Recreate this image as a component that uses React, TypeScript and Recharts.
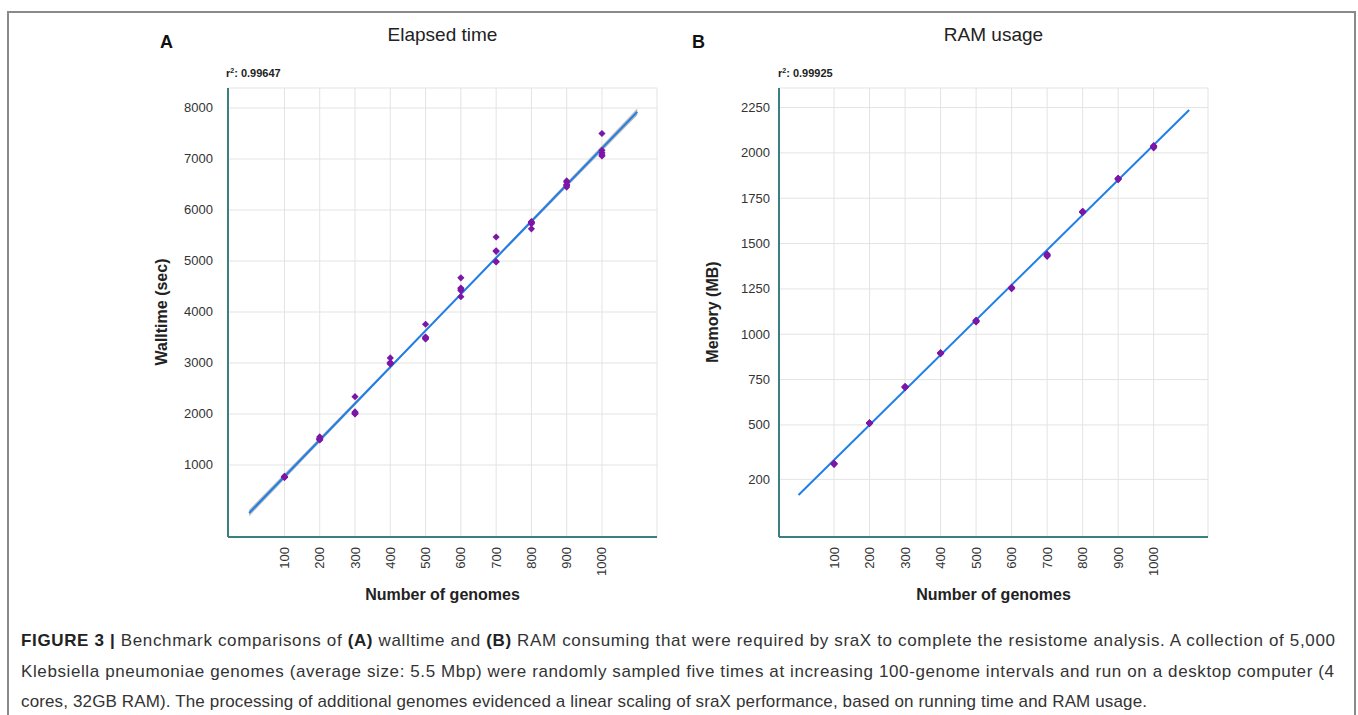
import React from "react";
import { ComposedChart, Scatter, Line, Area, XAxis, YAxis, CartesianGrid } from "recharts";

const genomes = [100, 200, 300, 400, 500, 600, 700, 800, 900, 1000];
const walltimeRuns = [
  [770, 760, 765, 755, 775],
  [1550, 1520, 1500, 1490, 1510],
  [2340, 2040, 2000, 2010, 2020],
  [3100, 3000, 2980, 2990, 3010],
  [3760, 3500, 3480, 3470, 3510],
  [4670, 4470, 4450, 4420, 4300],
  [5470, 5200, 5190, 4990, 4980],
  [5770, 5750, 5730, 5630, 5760],
  [6570, 6550, 6480, 6450, 6500],
  [7500, 7170, 7120, 7080, 7060],
];
const memoryRuns = [
  [283, 286, 288, 284, 287],
  [508, 510, 512, 509, 511],
  [706, 709, 712, 708, 710],
  [893, 896, 898, 895, 897],
  [1068, 1073, 1077, 1071, 1075],
  [1252, 1255, 1258, 1254, 1256],
  [1430, 1436, 1442, 1434, 1439],
  [1672, 1675, 1678, 1674, 1676],
  [1853, 1857, 1860, 1856, 1858],
  [2028, 2034, 2040, 2032, 2037],
];
const fitX = [0, 1100];
const fitWalltime = [59, 7924];
const fitMemory = [114, 2237];
const bandX = [0, 550, 1100];
const bandWalltimeLow = [-5, 3980, 7860];
const bandWalltimeHigh = [123, 4005, 7988];
const yTicksA = [1000, 2000, 3000, 4000, 5000, 6000, 7000, 8000];
const yTicksB = [200, 500, 750, 1000, 1250, 1500, 1750, 2000, 2250];

const FONT = "'Liberation Sans', Arial, Helvetica, sans-serif";
const TEAL = "#3b7f80";
const PURPLE = "#7b16a6";
const BLUE = "#1f7fe6";

const toPoints = (runs: number[][]) =>
  genomes.flatMap((g, i) => runs[i].map((v) => ({ x: g, y: v })));

const Diamond = (props: any) => {
  const { cx, cy } = props;
  if (cx == null || cy == null) return null;
  const r = 3.6;
  return (
    <path
      d={`M${cx},${cy - r}L${cx + r},${cy}L${cx},${cy + r}L${cx - r},${cy}Z`}
      fill={PURPLE}
    />
  );
};

const XTick = (props: any) => {
  const { x, y, payload } = props;
  return (
    <text
      transform={`translate(${x + 4.5},${y})rotate(-90)`}
      textAnchor="end"
      fontFamily={FONT}
      fontSize={13}
      fill="#333"
    >
      {payload.value}
    </text>
  );
};

const YTick = (props: any) => {
  const { x, y, payload } = props;
  return (
    <text x={x} y={y + 4.5} textAnchor="end" fontFamily={FONT} fontSize={13} fill="#333">
      {payload.value}
    </text>
  );
};

type PanelProps = {
  left: number;
  runs: number[][];
  fit: number[];
  yDomain: [number, number];
  xDomain: [number, number];
  yTicks: number[];
  yMargin: number;
  band?: { x: number; range: [number, number] }[];
};

const Panel = ({ left, runs, fit, yDomain, xDomain, yTicks, yMargin, band }: PanelProps) => {
  const pts = toPoints(runs);
  const fitData = fitX.map((x, i) => ({ x, y: fit[i] }));
  return (
    <div style={{ position: "absolute", left, top: 0 }}>
      <ComposedChart
        width={680}
        height={620}
        margin={{ top: 88, right: 23, bottom: 43, left: 168 }}
      >
        <CartesianGrid stroke="#e3e3e3" strokeWidth={1} />
        <XAxis
          type="number"
          dataKey="x"
          domain={xDomain}
          ticks={genomes}
          allowDataOverflow
          height={40}
          tickLine={false}
          tickSize={0}
          tickMargin={10}
          axisLine={{ stroke: TEAL, strokeWidth: 2 }}
          tick={<XTick />}
          interval={0}
        />
        <YAxis
          type="number"
          dataKey="y"
          domain={yDomain}
          ticks={yTicks}
          allowDataOverflow
          width={60}
          tickLine={false}
          tickSize={0}
          tickMargin={yMargin}
          axisLine={{ stroke: TEAL, strokeWidth: 2 }}
          tick={<YTick />}
          interval={0}
        />
        {band && (
          <Area
            data={band}
            dataKey="range"
            type="linear"
            stroke="none"
            fill="#8a8a8a"
            fillOpacity={0.6}
            isAnimationActive={false}
            dot={false}
            activeDot={false}
          />
        )}
        <Line
          data={fitData}
          dataKey="y"
          type="linear"
          stroke={BLUE}
          strokeWidth={2}
          dot={false}
          activeDot={false}
          isAnimationActive={false}
        />
        <Scatter data={pts} dataKey="y" shape={<Diamond />} isAnimationActive={false} />
      </ComposedChart>
    </div>
  );
};

export default function App() {
  const bandA = bandX.map((x, i) => ({
    x,
    range: [bandWalltimeLow[i], bandWalltimeHigh[i]] as [number, number],
  }));
  return (
    <div
      style={{
        position: "absolute",
        left: 0,
        top: 0,
        width: 1358,
        height: 715,
        overflow: "hidden",
        background: "#fff",
        fontFamily: FONT,
      }}
    >
      <div
        style={{
          position: "absolute",
          left: 7,
          top: 11,
          width: 1345,
          height: 740,
          border: "2px solid #8a8a8a",
        }}
      />
      <Panel
        left={0}
        runs={walltimeRuns}
        fit={fitWalltime}
        yDomain={[-412, 8392]}
        xDomain={[-60, 1156]}
        yTicks={yTicksA}
        yMargin={15}
        band={bandA}
      />
      <Panel
        left={551}
        runs={memoryRuns}
        fit={fitMemory}
        yDomain={[-118, 2358]}
        xDomain={[-55, 1153]}
        yTicks={yTicksB}
        yMargin={9}
      />
      <svg
        width={1358}
        height={715}
        style={{ position: "absolute", left: 0, top: 0, pointerEvents: "none" }}
        fontFamily={FONT}
      >
        <text x={160} y={48} fontSize={18} fontWeight="bold" fill="#111">A</text>
        <text x={442.5} y={41} fontSize={19} textAnchor="middle" fill="#222">Elapsed time</text>
        <text x={226} y={77} fontSize={11} fontWeight="bold" fill="#222">
          r<tspan fontSize={7} dy={-4}>2</tspan>
          <tspan dy={4}>: 0.99647</tspan>
        </text>
        <text
          transform="translate(167,312)rotate(-90)"
          fontSize={16}
          fontWeight="bold"
          textAnchor="middle"
          fill="#222"
        >
          Walltime (sec)
        </text>
        <text x={442.5} y={600} fontSize={16} fontWeight="bold" textAnchor="middle" fill="#222">
          Number of genomes
        </text>

        <text x={692} y={48} fontSize={18} fontWeight="bold" fill="#111">B</text>
        <text x={993.5} y={41} fontSize={19} textAnchor="middle" fill="#222">RAM usage</text>
        <text x={778} y={77} fontSize={11} fontWeight="bold" fill="#222">
          r<tspan fontSize={7} dy={-4}>2</tspan>
          <tspan dy={4}>: 0.99925</tspan>
        </text>
        <text
          transform="translate(718,312)rotate(-90)"
          fontSize={16}
          fontWeight="bold"
          textAnchor="middle"
          fill="#222"
        >
          Memory (MB)
        </text>
        <text x={993.5} y={600} fontSize={16} fontWeight="bold" textAnchor="middle" fill="#222">
          Number of genomes
        </text>

        <text x={21} y={646} fontSize={17} fill="#333" textLength={1314} lengthAdjust="spacing">
          <tspan fontWeight="bold" fill="#222">FIGURE 3 | </tspan>
          <tspan>Benchmark comparisons of </tspan>
          <tspan fontWeight="bold" fill="#222">(A)</tspan>
          <tspan> walltime and </tspan>
          <tspan fontWeight="bold" fill="#222">(B)</tspan>
          <tspan> RAM consuming that were required by sraX to complete the resistome analysis. A collection of 5,000</tspan>
        </text>
        <text x={21} y={677} fontSize={17} fill="#333" textLength={1313} lengthAdjust="spacing">
          Klebsiella pneumoniae genomes (average size: 5.5 Mbp) were randomly sampled five times at increasing 100-genome intervals and run on a desktop computer (4
        </text>
        <text x={21} y={707} fontSize={17} fill="#333" textLength={1126} lengthAdjust="spacing">
          cores, 32GB RAM). The processing of additional genomes evidenced a linear scaling of sraX performance, based on running time and RAM usage.
        </text>
      </svg>
    </div>
  );
}
